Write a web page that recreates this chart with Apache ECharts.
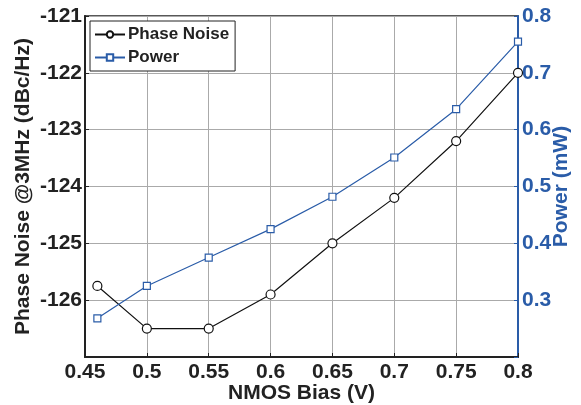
<!DOCTYPE html>
<html>
<head>
<meta charset="utf-8">
<script src="https://cdn.jsdelivr.net/npm/echarts@6/dist/echarts.min.js"></script>
<style>
  html, body { margin: 0; padding: 0; background: #fff; }
  #main { width: 581px; height: 405px; }
</style>
</head>
<body>
<div id="main"></div>
<script>
// data
var bias = [0.46, 0.5, 0.55, 0.6, 0.65, 0.7, 0.75, 0.8];
var phaseNoise = [-125.75, -126.5, -126.5, -125.9, -125.0, -124.2, -123.2, -122.0];
var power = [0.268, 0.325, 0.375, 0.425, 0.482, 0.551, 0.636, 0.755];

var blue = '#2a5ca8';
var font = 'Liberation Sans, Arial, sans-serif';

function pairs(xs, ys) {
    return xs.map(function (x, i) { return [x, ys[i]]; });
}

var myChart = echarts.init(document.getElementById('main'));
myChart.setOption({
    animation: false,
    grid: {
        left: 85, right: 63, top: 16, bottom: 48,
        outerBoundsMode: 'none',
        containLabel: false,
        show: true, borderColor: '#222', borderWidth: 1.5
    },
    legend: {
        left: 90, top: 21,
        orient: 'vertical',
        backgroundColor: '#fff',
        borderColor: '#222',
        borderWidth: 1,
        borderRadius: 0,
        padding: [5, 6, 5, 4],
        itemGap: 6,
        itemWidth: 30,
        itemHeight: 8,
        textStyle: { fontFamily: font, fontWeight: 'bold', fontSize: 17, color: '#222', padding: [0, 0, 0, -2] },
        data: ['Phase Noise', 'Power']
    },
    xAxis: {
        type: 'value',
        min: 0.45, max: 0.8, interval: 0.05,
        name: 'NMOS Bias (V)',
        nameLocation: 'middle',
        nameGap: 26,
        nameMoveOverlap: false,
        nameTextStyle: { fontFamily: font, fontWeight: 'bold', fontSize: 21, color: '#222' },
        axisLine: { lineStyle: { color: '#222', width: 2 } },
        axisTick: { inside: true, length: 4, lineStyle: { color: '#222' } },
        axisLabel: {
            fontFamily: font, fontWeight: 'bold', fontSize: 21, color: '#222', margin: 5,
            formatter: function (v) { return String(parseFloat(v.toFixed(2))); }
        },
        splitLine: { show: true, lineStyle: { color: '#aaa', width: 1 } }
    },
    yAxis: [{
        type: 'value',
        min: -127, max: -121, interval: 1,
        name: 'Phase Noise @3MHz (dBc/Hz)',
        nameLocation: 'middle',
        nameGap: 51,
        nameMoveOverlap: false,
        nameTextStyle: { fontFamily: font, fontWeight: 'bold', fontSize: 21, color: '#222' },
        axisLine: { show: true, lineStyle: { color: '#222', width: 2 } },
        axisTick: { show: true, inside: true, length: 4, lineStyle: { color: '#222' } },
        axisLabel: {
            fontFamily: font, fontWeight: 'bold', fontSize: 21, color: '#222', margin: 3,
            formatter: function (v) { return v === -127 ? '' : String(v); }
        },
        splitLine: { show: true, lineStyle: { color: '#aaa', width: 1 } }
    }, {
        type: 'value',
        min: 0.2, max: 0.8, interval: 0.1,
        name: 'Power (mW)',
        nameLocation: 'middle',
        nameGap: 33,
        nameMoveOverlap: false,
        nameTextStyle: { fontFamily: font, fontWeight: 'bold', fontSize: 21, color: blue },
        axisLine: { show: true, lineStyle: { color: blue, width: 2 } },
        axisTick: { show: true, inside: true, length: 4, lineStyle: { color: blue } },
        axisLabel: {
            fontFamily: font, fontWeight: 'bold', fontSize: 21, color: blue, margin: 4,
            formatter: function (v) {
                var s = parseFloat(v.toFixed(1));
                return s === 0.2 ? '' : s.toFixed(1);
            }
        },
        splitLine: { show: false }
    }],
    series: [{
        name: 'Phase Noise',
        type: 'line',
        yAxisIndex: 0,
        data: pairs(bias, phaseNoise),
        symbol: 'circle',
        symbolSize: 9,
        lineStyle: { color: '#111', width: 1.2 },
        itemStyle: { color: '#fff', borderColor: '#111', borderWidth: 1.2 }
    }, {
        name: 'Power',
        type: 'line',
        yAxisIndex: 1,
        data: pairs(bias, power),
        symbol: 'rect',
        symbolSize: 7,
        lineStyle: { color: blue, width: 1.2 },
        itemStyle: { color: '#fff', borderColor: blue, borderWidth: 1.2 }
    }]
});
</script>
</body>
</html>
